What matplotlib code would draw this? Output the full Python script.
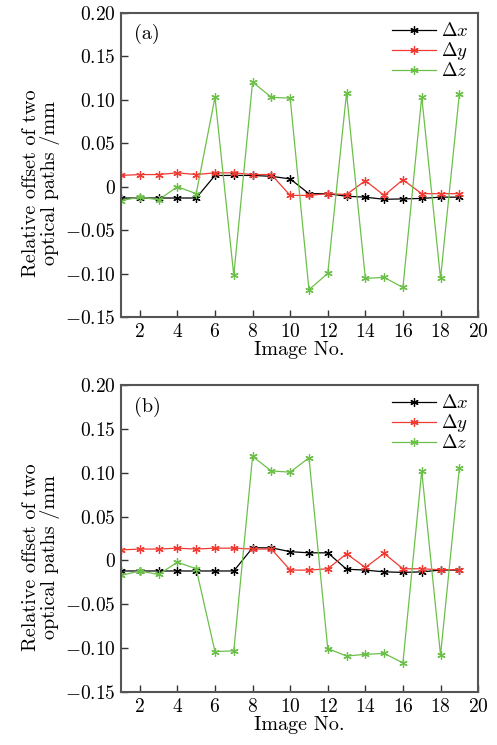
import matplotlib
matplotlib.use("Agg")
import matplotlib.pyplot as plt
from matplotlib.ticker import FuncFormatter

plt.rcParams['font.family'] = ['cmr10', 'DejaVu Serif']
plt.rcParams['mathtext.fontset'] = 'cm'
plt.rcParams['axes.formatter.use_mathtext'] = True

image_no = list(range(1, 20))

# panel (a)
a_dx = [-0.013, -0.013, -0.013, -0.013, -0.013, 0.013, 0.013, 0.013, 0.012, 0.009,
        -0.008, -0.008, -0.011, -0.012, -0.0145, -0.014, -0.0135, -0.012, -0.012]
a_dy = [0.013, 0.014, 0.014, 0.016, 0.014, 0.016, 0.016, 0.014, 0.014, -0.010,
        -0.010, -0.008, -0.009, 0.007, -0.010, 0.008, -0.008, -0.008, -0.008]
a_dz = [-0.016, -0.012, -0.015, 0.0, -0.008, 0.103, -0.102, 0.1205, 0.103, 0.102,
        -0.1186, -0.0998, 0.108, -0.1055, -0.1044, -0.116, 0.1036, -0.1055, 0.1063]

# panel (b)
b_dx = [-0.012, -0.012, -0.012, -0.012, -0.012, -0.012, -0.012, 0.0144, 0.0144, 0.010,
        0.0087, 0.0087, -0.010, -0.011, -0.013, -0.0136, -0.013, -0.011, -0.011]
b_dy = [0.012, 0.013, 0.013, 0.014, 0.013, 0.014, 0.014, 0.013, 0.013, -0.011,
        -0.011, -0.0095, 0.0076, -0.008, 0.008, -0.0095, -0.0095, -0.0106, -0.0106]
b_dz = [-0.017, -0.012, -0.016, -0.002, -0.0095, -0.104, -0.103, 0.1186, 0.102, 0.1007,
        0.117, -0.1004, -0.109, -0.107, -0.106, -0.1167, 0.102, -0.108, 0.105]

panels = [("(a)", a_dx, a_dy, a_dz), ("(b)", b_dx, b_dy, b_dz)]
labels = [r"$\Delta x$", r"$\Delta y$", r"$\Delta z$"]
colors = ["black", "#f03a32", "#6cc04a"]
x_ticks = [2, 4, 6, 8, 10, 12, 14, 16, 18, 20]
y_ticks = [-0.15, -0.10, -0.05, 0, 0.05, 0.10, 0.15, 0.20]


def fmt(v, pos):
    if abs(v) < 1e-9:
        return "$0$"
    return "$%.2f$" % v


fig = plt.figure(figsize=(4.97, 7.45), dpi=100)
boxes = [[0.2435, 0.5745, 0.7185, 0.408], [0.2435, 0.0711, 0.7185, 0.4121]]

for box, (tag, dx, dy, dz) in zip(boxes, panels):
    ax = fig.add_axes(box)
    for vals, lab, c in zip([dx, dy, dz], labels, colors):
        ax.plot(image_no, vals, color=c, lw=0.9, marker=(6, 2, 0), ms=6,
                mew=0.9, label=lab)
    ax.set_xlim(1, 20)
    ax.set_ylim(-0.15, 0.20)
    ax.set_xticks(x_ticks)
    ax.set_xticklabels(["$%d$" % t for t in x_ticks])
    ax.set_yticks(y_ticks)
    ax.yaxis.set_major_formatter(FuncFormatter(fmt))
    ax.tick_params(direction='in', length=5, width=1, labelsize=14,
                   top=False, right=False, color='#333333', pad=4)
    for sp in ax.spines.values():
        sp.set_color('#555555')
        sp.set_linewidth(1.5)
    ax.set_xlabel("Image No.", fontsize=14.5, labelpad=0)
    ax.set_ylabel("Relative offset of two\noptical paths /mm", fontsize=14.5,
                  linespacing=1.0, labelpad=3)
    ax.yaxis.set_label_coords(-0.17, 0.44)
    ax.text(0.035, 0.93, tag, transform=ax.transAxes, fontsize=14.5, va='center')
    ax.legend(loc='upper right', frameon=False, fontsize=13.5, handlelength=2.3,
              labelspacing=0.0, borderaxespad=0.3, handletextpad=0.3,
              borderpad=0.2)

fig.savefig("out.png", dpi=100)
